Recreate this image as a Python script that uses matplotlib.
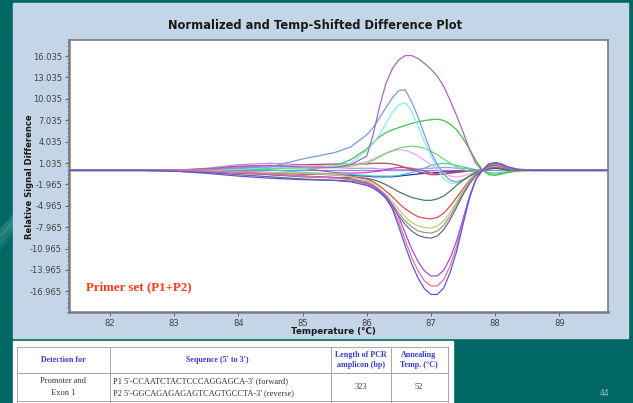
import numpy as np
import matplotlib.pyplot as plt
from matplotlib.patches import Rectangle
from matplotlib.ticker import FixedLocator, MultipleLocator

# temperature grid (°C) shared by all difference curves
temps = [81.36, 82.0, 82.5, 83.0, 83.5, 84.0, 84.5, 85.0, 85.5, 85.75,
         86.0, 86.1, 86.2, 86.3, 86.4, 86.5, 86.6, 86.7, 86.8, 86.9,
         87.0, 87.1, 87.2, 87.3, 87.4, 87.5, 87.6, 87.7, 87.8, 87.9,
         88.0, 88.1, 88.2, 88.35, 88.6, 89.0, 89.76]

# curves rising above the reference
purple_hi = [0, 0, 0, 0.05, 0.2, 0.5, 0.7, 0.5, 0.4, 0.8,
             2.0, 5.0, 9.0, 12.2, 14.3, 15.5, 16.1, 16.1, 15.7, 15.0,
             14.2, 13.2, 11.8, 9.8, 7.7, 5.4, 3.0, 1.0, 0.0, 0.8,
             1.1, 0.9, 0.5, 0.2, 0, 0, 0]
blue_hi = [0, 0, 0, 0, 0.1, 0.3, 0.5, 1.6, 2.5, 3.3,
           5.0, 6.0, 7.4, 8.8, 10.2, 11.2, 11.3, 9.6, 7.5, 5.0,
           2.6, 0.8, -0.5, -1.4, -1.6, -1.3, -0.8, -0.3, 0, 0.6,
           0.9, 0.7, 0.4, 0.1, 0, 0, 0]
cyan_hi = [0, 0, 0, 0, 0, 0.2, 0.4, 0.3, 0.6, 1.0,
           2.8, 3.8, 5.0, 6.6, 8.1, 9.2, 9.5, 8.3, 6.2, 4.0,
           2.1, 0.3, -1.2, -1.8, -1.8, -1.4, -0.9, -0.4, 0, 0.5,
           0.8, 0.6, 0.3, 0.1, 0, 0, 0]
green_hi = [0, 0, 0, 0, 0.1, 0.3, 0.4, 0.3, 0.6, 1.5,
            3.0, 3.9, 4.7, 5.3, 5.7, 6.0, 6.3, 6.6, 6.8, 7.0,
            7.1, 7.2, 7.0, 6.5, 5.7, 4.5, 3.0, 1.4, 0.1, -0.6,
            -0.7, -0.5, -0.3, -0.1, 0, 0, 0]
green_lo = [0, 0, 0, 0, 0, 0.2, 0.3, 0.2, 0.4, 0.6,
            1.0, 1.4, 1.9, 2.4, 2.8, 3.1, 3.3, 3.4, 3.3, 3.1,
            2.7, 2.2, 1.6, 1.0, 0.5, 0.1, -0.1, -0.1, 0, -0.4,
            -0.5, -0.4, -0.2, 0, 0, 0, 0]
pink_lo = [0, 0, 0, 0, 0, 0.3, 0.6, 0.7, 0.6, 0.8,
           1.2, 1.6, 2.0, 2.4, 2.7, 2.9, 2.8, 2.5, 2.0, 1.4,
           0.8, 0.2, -0.4, -0.8, -0.9, -0.8, -0.5, -0.2, 0, 0.4,
           0.6, 0.5, 0.3, 0.1, 0, 0, 0]
brown = [0, 0, 0, 0, 0, 0.3, 0.5, 0.8, 0.9, 0.9,
         0.9, 1.0, 1.0, 1.0, 0.9, 0.7, 0.4, 0.1, -0.2, -0.4,
         -0.6, -0.6, -0.5, -0.3, -0.2, -0.1, -0.1, 0, 0, 0.3,
         0.4, 0.3, 0.2, 0, 0, 0, 0]
teal = [0, 0, 0, 0, 0, 0.2, 0.1, -0.3, -0.5, -0.6,
        -0.7, -0.8, -0.8, -0.8, -0.8, -0.7, -0.5, -0.3, 0.0, 0.3,
        0.7, 0.9, 1.0, 0.9, 0.7, 0.5, 0.3, 0.1, 0, -0.3,
        -0.4, -0.3, -0.2, 0, 0, 0, 0]
lavender = [0, 0, 0, 0, 0.3, 0.8, 1.0, 0.8, 0.4, 0.3,
            0.3, 0.3, 0.2, 0.2, 0.1, 0.1, 0.1, 0.1, 0.2, 0.3,
            0.3, 0.4, 0.4, 0.4, 0.3, 0.3, 0.2, 0.1, 0, 0.5,
            0.6, 0.5, 0.3, 0.1, 0, 0, 0]
magenta = [0, 0, 0, 0, 0.2, 0.6, 0.7, 0.3, -0.3, -0.4,
           -0.3, -0.2, -0.1, 0.1, 0.3, 0.4, 0.4, 0.3, 0.1, -0.1,
           -0.3, -0.5, -0.5, -0.4, -0.3, -0.2, -0.1, 0, 0, 0.4,
           0.5, 0.4, 0.2, 0.1, 0, 0, 0]
navy = [0, 0, 0, 0, -0.1, -0.2, -0.3, -0.5, -0.6, -0.7,
        -0.8, -0.9, -0.9, -0.9, -0.9, -0.8, -0.7, -0.6, -0.5, -0.4,
        -0.3, -0.3, -0.2, -0.2, -0.1, -0.1, 0, 0, 0, 0.2,
        0.3, 0.2, 0.1, 0, 0, 0, 0]
flat = [0] * 37

# curves dipping below the reference
olive = [0, 0, 0, 0, -0.1, -0.3, -0.6, -0.9, -1.0, -1.0,
         -1.1, -1.3, -1.6, -2.0, -2.5, -3.0, -3.4, -3.8, -4.0, -4.2,
         -4.2, -4.0, -3.6, -2.9, -2.1, -1.4, -0.8, -0.3, 0, 0.3,
         0.4, 0.3, 0.1, 0, 0, 0, 0]
red = [0, 0, 0, 0, -0.1, -0.2, -0.4, -0.5, -0.6, -0.8,
       -1.2, -1.6, -2.2, -2.9, -3.7, -4.6, -5.4, -6.0, -6.5, -6.7,
       -6.8, -6.6, -6.0, -5.0, -3.8, -2.6, -1.4, -0.5, 0, 0.4,
       0.5, 0.4, 0.2, 0, 0, 0, 0]
yellowgreen = [0, 0, 0, 0, 0, -0.2, -0.3, -0.4, -0.6, -0.9,
               -1.4, -1.9, -2.6, -3.4, -4.4, -5.5, -6.5, -7.3, -7.8, -8.0,
               -8.1, -7.8, -7.1, -5.9, -4.4, -2.9, -1.6, -0.6, 0, 0.5,
               0.6, 0.5, 0.3, 0.1, 0, 0, 0]
gray = [0, 0, 0, 0, -0.1, -0.3, -0.5, -0.8, -1.0, -1.2,
        -1.6, -2.1, -2.8, -3.7, -4.8, -6.0, -7.1, -7.9, -8.5, -8.7,
        -8.8, -8.5, -7.7, -6.4, -4.8, -3.2, -1.8, -0.7, 0, 0.6,
        0.7, 0.6, 0.3, 0.1, 0, 0, 0]
slate = [0, 0, 0, -0.1, -0.3, -0.6, -0.9, -1.2, -1.4, -1.5,
         -1.8, -2.2, -2.9, -3.9, -5.1, -6.4, -7.6, -8.5, -9.1, -9.4,
         -9.5, -9.2, -8.3, -6.9, -5.2, -3.4, -1.9, -0.7, 0, 0.6,
         0.8, 0.6, 0.3, 0.1, 0, 0, 0]
purple_lo = [0, 0, 0, 0, -0.2, -0.4, -0.6, -0.8, -1.0, -1.2,
             -1.8, -2.2, -2.8, -3.6, -4.8, -6.6, -8.8, -11.0, -12.8, -14.1,
             -14.8, -14.8, -14.0, -12.3, -9.9, -6.8, -3.7, -1.3, 0, 0.8,
             1.0, 0.8, 0.4, 0.1, 0, 0, 0]
pink_deep = [0, 0, 0, 0, -0.1, -0.3, -0.5, -0.8, -1.1, -1.3,
             -2.0, -2.4, -3.0, -3.9, -5.3, -7.3, -9.8, -12.2, -14.1, -15.5,
             -16.2, -16.2, -15.3, -13.4, -10.7, -7.3, -3.9, -1.3, 0, 0.8,
             0.9, 0.7, 0.4, 0.1, 0, 0, 0]
blue_deep = [0, 0, 0, -0.1, -0.4, -0.8, -1.1, -1.3, -1.4, -1.6,
             -2.1, -2.5, -3.1, -3.9, -5.4, -7.9, -10.6, -13.1, -15.1, -16.6,
             -17.4, -17.4, -16.5, -14.3, -11.4, -7.6, -3.9, -1.2, 0, 0.9,
             1.1, 0.9, 0.5, 0.1, 0, 0, 0]

curves = [
    (flat, '#8888e0'), (navy, '#2030c0'), (lavender, '#c090e0'), (magenta, '#d040c0'),
    (brown, '#a85050'), (teal, '#40c8c8'), (pink_lo, '#f0a8e8'), (green_lo, '#70d870'),
    (green_hi, '#48c048'), (cyan_hi, '#8ae8f0'), (blue_hi, '#7a9ad8'), (purple_hi, '#a868b8'),
    (olive, '#507860'), (red, '#d85050'), (yellowgreen, '#b8d070'), (gray, '#989898'),
    (slate, '#686888'), (purple_lo, '#a050e0'), (pink_deep, '#e87090'), (blue_deep, '#5858d8'),
]

y_ticks = [16.035, 13.035, 10.035, 7.035, 4.035, 1.035, -1.965, -4.965,
           -7.965, -10.965, -13.965, -16.965]
x_ticks = [82, 83, 84, 85, 86, 87, 88, 89]

W, H = 633, 403
fig = plt.figure(figsize=(W / 100, H / 100), dpi=100)

# slide background, panel and table live on a full-figure axes in pixel units
bg = fig.add_axes([0, 0, 1, 1], zorder=0)
bg.set_xlim(0, W)
bg.set_ylim(H, 0)
bg.axis('off')
bg.add_patch(Rectangle((0, 0), W, H, color='#006a68', zorder=0))
for yy in range(0, H, 3):
    bg.axhline(yy + 0.5, color='#00645f', lw=0.8, zorder=0.1)
t = np.linspace(0, np.pi / 2, 80)
for r, a in [(260, 0.18), (300, 0.12), (340, 0.08)]:
    bg.plot(40 - r + r * np.cos(t), 150 + 0.6 * r * np.sin(t), color='#a8dcd4',
            lw=5, alpha=a, zorder=0.2)
bg.add_patch(Rectangle((13, 3), 615, 335, color='#c3d5e6', zorder=1))

bg.text(315, 26, 'Normalized and Temp-Shifted Difference Plot', ha='center', va='center',
        fontsize=8.3, fontweight='bold', color='#1a1a1a', zorder=3)
bg.text(29, 177, 'Relative Signal Difference', rotation=90, ha='center', va='center',
        fontsize=6.0, fontweight='bold', color='#1a1a1a', zorder=3)
bg.text(333, 332, 'Temperature (°C)', ha='center', va='center',
        fontsize=6.3, fontweight='bold', color='#1a1a1a', zorder=3)
bg.text(605, 393, '44', ha='center', va='center', fontsize=5.5, color='#8cc4c0', zorder=3)

# primer table
bg.add_patch(Rectangle((13, 341), 440, 62, color='white', zorder=1))
for xx in [17, 110, 331, 391, 448]:
    bg.plot([xx, xx], [347, 403], color='#999999', lw=0.6, zorder=2)
for yy in [347, 373, 401]:
    bg.plot([17, 448], [yy, yy], color='#999999', lw=0.6, zorder=2)
serif = 'Liberation Serif'
hdr = dict(ha='center', va='center', fontsize=5.8, fontweight='bold', color='#3a3ad0',
           family=serif, zorder=3)
bg.text(63, 360, 'Detection for', **hdr)
bg.text(217, 360, "Sequence (5' to 3')", **hdr)
bg.text(361, 360, 'Length of PCR\namplicon (bp)', linespacing=1.3, **hdr)
bg.text(419, 360, 'Annealing\nTemp. (°C)', linespacing=1.3, **hdr)
row = dict(va='center', fontsize=6.0, color='#333333', family=serif, zorder=3)
bg.text(63, 381, 'Promoter and', ha='center', **row)
bg.text(63, 393, 'Exon 1', ha='center', **row)
bg.text(113, 381, "P1 5'-CCAATCTACTCCCAGGAGCA-3' (forward)", ha='left', **row)
bg.text(113, 393, "P2 5'-GGCAGAGAGAGTCAGTGCCTA-3' (reverse)", ha='left', **row)
bg.text(361, 387, '323', ha='center', **row)
bg.text(419, 387, '52', ha='center', **row)

# difference plot
ax = fig.add_axes([69 / W, (H - 312) / H, (608 - 69) / W, (312 - 40) / H], zorder=1)
ax.set_facecolor('white')
for vals, col in curves:
    ax.plot(temps, vals, color=col, lw=0.9, solid_joinstyle='round')
ax.set_xlim(81.36, 89.76)
ax.set_ylim(-19.86, 18.29)
ax.yaxis.set_major_locator(FixedLocator(y_ticks))
ax.set_yticklabels([f'{v:.3f}' for v in y_ticks])
ax.yaxis.set_minor_locator(MultipleLocator(0.6))
ax.set_xticks(x_ticks)
ax.set_xticklabels([str(v) for v in x_ticks])
ax.tick_params(axis='both', labelsize=6, colors='#555555', labelcolor='#444444',
               length=3, width=0.6, direction='out', pad=2)
ax.tick_params(axis='y', which='minor', length=1.5, width=0.5, colors='#555555')
for side in ['top', 'right', 'left', 'bottom']:
    ax.spines[side].set_color('#7a7a7a')
    ax.spines[side].set_linewidth(1.2)
ax.spines['left'].set_linewidth(1.8)
ax.spines['bottom'].set_linewidth(1.8)

ax.text(86, 287, 'Primer set (P1+P2)', transform=bg.transData, fontsize=9.3,
        fontweight='bold', color='#ff3a14', family=serif, va='center')

fig.savefig('out.png', dpi=100)
